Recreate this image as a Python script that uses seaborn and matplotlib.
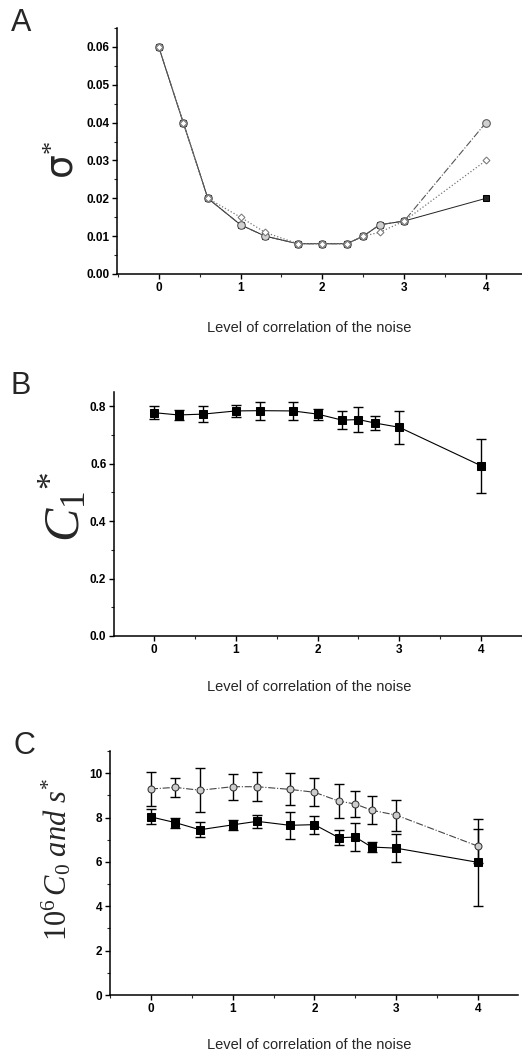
import numpy as np
import pandas as pd
import matplotlib
matplotlib.use("Agg")
import matplotlib.pyplot as plt
from matplotlib.ticker import MultipleLocator, FormatStrFormatter
import seaborn as sns

# ---------------- data ----------------
x_level = [0, 0.3, 0.6, 1, 1.3, 1.7, 2, 2.3, 2.5, 2.7, 3, 4]

# Panel A: sigma*
sigma_square = [0.060, 0.040, 0.020, 0.013, 0.010, 0.008, 0.008, 0.008, 0.010, 0.013, 0.014, 0.020]
sigma_circle = [0.060, 0.040, 0.020, 0.013, 0.010, 0.008, 0.008, 0.008, 0.010, 0.013, 0.014, 0.040]
sigma_diamond = [0.060, 0.040, 0.020, 0.015, 0.011, 0.008, 0.008, 0.008, 0.010, 0.011, 0.014, 0.030]

# Panel B: C1*
c1_mean = [0.778, 0.770, 0.773, 0.784, 0.785, 0.784, 0.773, 0.752, 0.754, 0.742, 0.727, 0.593]
c1_err = [0.022, 0.018, 0.029, 0.020, 0.031, 0.030, 0.019, 0.031, 0.044, 0.023, 0.057, 0.095]

# Panel C: 10^6 C0 (squares) and s* (circles)
c0_mean = [8.03, 7.77, 7.45, 7.67, 7.83, 7.65, 7.68, 7.09, 7.12, 6.67, 6.62, 5.98]
c0_err = [0.34, 0.23, 0.34, 0.21, 0.29, 0.61, 0.40, 0.35, 0.63, 0.22, 0.62, 1.96]
s_mean = [9.29, 9.36, 9.23, 9.39, 9.39, 9.27, 9.14, 8.74, 8.61, 8.33, 8.11, 6.71]
s_err = [0.75, 0.42, 1.00, 0.59, 0.65, 0.72, 0.63, 0.76, 0.57, 0.63, 0.70, 0.76]

x_ticks = [0, 1, 2, 3, 4]
xlabel_text = "Level of correlation of the noise"

# ---------------- style ----------------
sns.set_style("ticks")
plt.rcParams["font.family"] = ["Liberation Sans", "DejaVu Sans"]
plt.rcParams["mathtext.fontset"] = "custom"
plt.rcParams["mathtext.rm"] = "Liberation Serif"
plt.rcParams["mathtext.it"] = "Liberation Serif:italic"
plt.rcParams["mathtext.bf"] = "Liberation Serif:bold"

W, H = 522, 1055
fig = plt.figure(figsize=(W / 100, H / 100), dpi=100)


def px_axes(left, top, right, bottom):
    return fig.add_axes([left / W, (H - bottom) / H, (right - left) / W, (bottom - top) / H])


def style_axes(ax, xlim, ylim, ymajor, yminor, yfmt):
    ax.set_xlim(*xlim)
    ax.set_ylim(*ylim)
    ax.set_xticks(x_ticks)
    ax.xaxis.set_minor_locator(MultipleLocator(0.5))
    ax.yaxis.set_major_locator(MultipleLocator(ymajor))
    ax.yaxis.set_minor_locator(MultipleLocator(yminor))
    ax.yaxis.set_major_formatter(FormatStrFormatter(yfmt))
    for s in ["top", "right"]:
        ax.spines[s].set_visible(False)
    for s in ["left", "bottom"]:
        ax.spines[s].set_linewidth(1.1)
        ax.spines[s].set_color("black")
    ax.tick_params(which="major", direction="out", length=3.5, width=1, labelsize=8.5, pad=2, colors="black")
    ax.tick_params(which="minor", direction="out", length=2, width=0.8)
    for lab in ax.get_xticklabels() + ax.get_yticklabels():
        lab.set_fontweight("bold")
    ax.set_xlabel("")
    ax.set_ylabel("")
    leg = ax.get_legend()
    if leg is not None:
        leg.remove()


# ---------------- Panel A ----------------
axA = px_axes(117, 28, 522, 274)
dfA = pd.DataFrame({"x": x_level, "sq": sigma_square, "ci": sigma_circle, "di": sigma_diamond})
sns.lineplot(data=dfA, x="x", y="sq", ax=axA, color="#222222", lw=0.7, linestyle="-",
             marker="s", markersize=5, markeredgecolor="black", zorder=2)
sns.lineplot(data=dfA, x="x", y="ci", ax=axA, color="#555555", lw=0.8, linestyle="-.",
             marker="o", markersize=5.5, markerfacecolor="#d0d0d0", markeredgecolor="#555555", zorder=3)
sns.lineplot(data=dfA, x="x", y="di", ax=axA, color="#777777", lw=0.9, linestyle=":",
             marker="D", markersize=3.5, markerfacecolor="white", markeredgecolor="#777777", zorder=4)
style_axes(axA, (-0.51, 4.44), (0, 0.065), 0.01, 0.005, "%.2f")

# ---------------- Panel B ----------------
axB = px_axes(114, 392, 522, 636)
dfB = pd.DataFrame({"x": x_level, "c1": c1_mean})
axB.errorbar(x_level, c1_mean, yerr=c1_err, fmt="none", ecolor="black", elinewidth=1,
             capsize=3.5, capthick=1, zorder=2)
sns.lineplot(data=dfB, x="x", y="c1", ax=axB, color="black", lw=0.8, marker="s",
             markersize=5.5, markeredgecolor="black", zorder=3)
style_axes(axB, (-0.49, 4.5), (0, 0.85), 0.2, 0.1, "%.1f")

# ---------------- Panel C ----------------
axC = px_axes(110, 751, 518, 995)
dfC = pd.DataFrame({"x": x_level, "c0": c0_mean, "s": s_mean})
axC.errorbar(x_level, s_mean, yerr=s_err, fmt="none", ecolor="black", elinewidth=1,
             capsize=3.5, capthick=1, zorder=2)
axC.errorbar(x_level, c0_mean, yerr=c0_err, fmt="none", ecolor="black", elinewidth=1,
             capsize=3.5, capthick=1, zorder=2)
sns.lineplot(data=dfC, x="x", y="s", ax=axC, color="#444444", lw=0.8, linestyle="-.",
             marker="o", markersize=5, markerfacecolor="#cccccc", markeredgecolor="#333333", zorder=3)
sns.lineplot(data=dfC, x="x", y="c0", ax=axC, color="black", lw=0.8, marker="s",
             markersize=5.5, markeredgecolor="black", zorder=4)
style_axes(axC, (-0.50, 4.49), (0, 11), 2, 1, "%d")

# ---------------- labels ----------------
for yc in (328, 687, 1045):
    fig.text(309 / W, 1 - yc / H, xlabel_text, ha="center", va="center", fontsize=10.5)

for letter, (xc, yc) in zip("ABC", [(21, 23), (21, 386), (24, 746)]):
    fig.text(xc / W, 1 - yc / H, letter, ha="center", va="center", fontsize=22)

fig.text(64 / W, 1 - 160 / H, "σ$^{*}$", rotation=90, ha="center", va="center",
         fontsize=27, family=["DejaVu Sans"])
fig.text(63 / W, 1 - 507 / H, r"$C_{\mathit{1}}{}^{*}$", rotation=90, ha="center", va="center", fontsize=36)
fig.text(57 / W, 1 - 860 / H, r"$\mathit{10}^{6}\,C_{0}\ \mathit{and}\ s^{*}$", rotation=90,
         ha="center", va="center", fontsize=22)

fig.savefig("out.png", dpi=100)
